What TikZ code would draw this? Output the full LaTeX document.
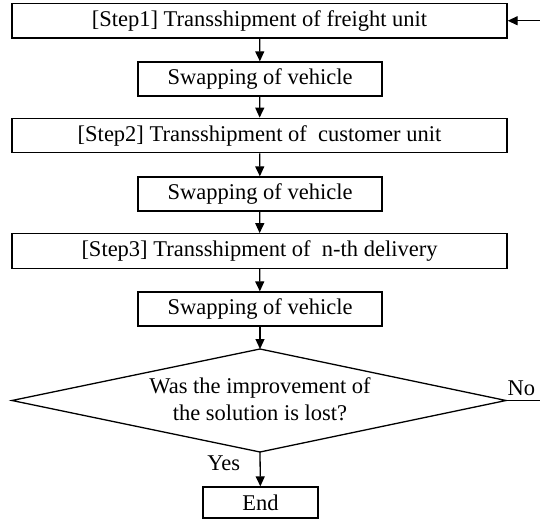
\documentclass[tikz,border=0pt]{standalone}
\usepackage{fontspec}
\setmainfont{Liberation Serif}
\usetikzlibrary{arrows.meta}
\begin{document}
\begin{tikzpicture}[x=1pt,y=-1pt,
  every node/.style={font=\fontsize{22.5}{27}\selectfont},
  wide/.style={draw,line width=1.3pt,minimum width=495pt,minimum height=34.5pt,inner sep=0pt},
  swapbox/.style={draw,line width=1.3pt,minimum width=244pt,minimum height=34pt,inner sep=0pt},
  flow/.style={line width=1.3pt,-{Triangle[length=10pt,width=9pt]}},
  plain/.style={line width=1.3pt}]
\useasboundingbox (0,0) rectangle (540,521);
\node[wide] (s1) at (259.5,20.75) {[Step1] Transshipment of freight unit};
\node[swapbox] (w1) at (260,79) {Swapping of vehicle};
\node[wide] (s2) at (259.5,135.5) {[Step2] Transshipment of\ \ customer unit};
\node[swapbox] (w2) at (260,194) {Swapping of vehicle};
\node[wide] (s3) at (259.5,251) {[Step3] Transshipment of\ \ n-th delivery};
\node[swapbox] (w3) at (260,309) {Swapping of vehicle};
% decision diamond, drawn from its four corners
\coordinate (qn) at (260,349);
\coordinate (qw) at (12,400.5);
\coordinate (qe) at (506,400.5);
\coordinate (qs) at (260,452);
\draw[plain,line join=miter] (qn) -- (qe) -- (qs) -- (qw) -- cycle;
\node[align=center,inner sep=0pt] (q) at (260,399) {Was the improvement of\\the solution is lost?};
\node[draw,line width=1.3pt,minimum width=115pt,minimum height=31pt,inner sep=0pt] (e) at (260.5,502.5) {End};
\coordinate (loopin) at (540,20.75);
\coordinate (loopout) at (540,400.5);
\draw[flow] (s1) -- (w1);
\draw[flow] (w1) -- (s2);
\draw[flow] (s2) -- (w2);
\draw[flow] (w2) -- (s3);
\draw[flow] (s3) -- (w3);
\draw[flow] (w3) -- (qn);
\draw[flow] (qs) -- node[left,xshift=-16pt,yshift=6pt] {Yes} (e);
\draw[plain] (qe) -- node[above,pos=0.45,yshift=1pt] {No} (loopout);
\draw[flow] (loopin) -- (s1.east);
\end{tikzpicture}
\end{document}
